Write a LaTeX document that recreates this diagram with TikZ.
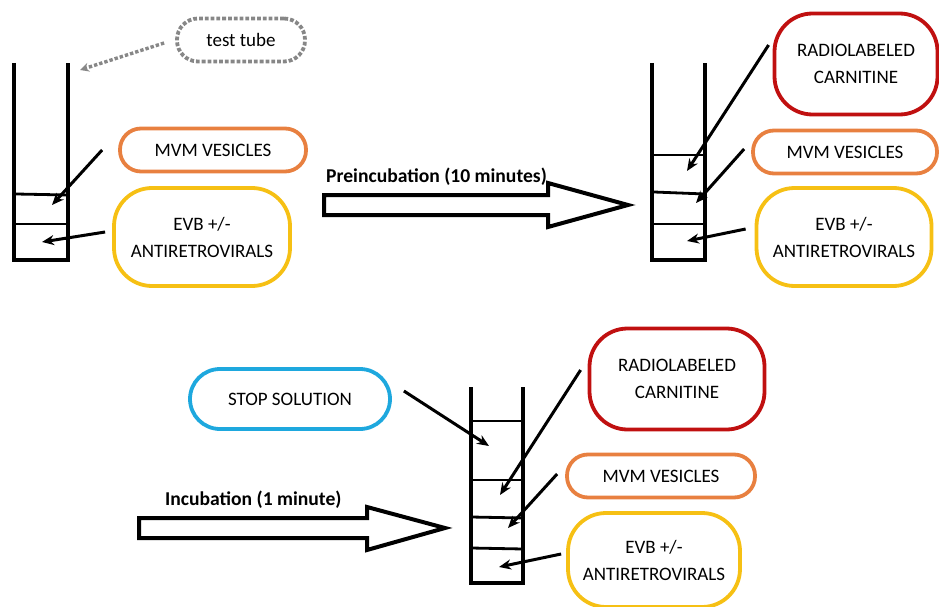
\documentclass[tikz,border=0pt]{standalone}
\usepackage{fontspec}
\setmainfont{Carlito}
\usetikzlibrary{arrows.meta}

\definecolor{mvmorange}{RGB}{232,128,64}
\definecolor{evbyellow}{RGB}{246,192,20}
\definecolor{radred}{RGB}{192,16,16}
\definecolor{stopblue}{RGB}{30,168,222}
\definecolor{hintgray}{RGB}{135,135,135}

\begin{document}
\begin{tikzpicture}[x=1pt, y=-1pt, font=\fontsize{19}{27}\selectfont]
    % Styles
    \tikzset{
        box/.style={draw=#1, line width=3.8pt, align=center, inner sep=0pt},
        pill/.style={box=#1, minimum height=43, rounded corners=21},
        tall/.style={box=#1, minimum height=98, rounded corners=38},
        tube/.style={line width=3.2pt, line join=miter},
        layer/.style={line width=2.8pt},
        feed/.style={line width=3pt, -{Stealth[length=12pt, width=10pt]}},
        hint/.style={line width=3.4pt, dotted, hintgray, -{Stealth[length=9pt, width=9pt]}},
        bigarrow/.style={line width=4pt, line join=miter, fill=white},
        step label/.style={font=\fontsize{19.6}{22}\selectfont\bfseries, anchor=west, inner sep=0pt}
    }
    \useasboundingbox (0,0) rectangle (939,607);

    % ---------- Tube A (before preincubation) ----------
    \draw[tube] (14,63) -- (14,260) -- (68,260) -- (68,63);
    \draw[layer] (16,194) -- (68,195);
    \draw[layer] (14,224) -- (68,224);
    \coordinate (topA) at (80,70);
    \coordinate (mvmA in) at (52,205);
    \coordinate (evbA in) at (42,242);

    \node[box=hintgray, dotted, line width=3.8pt, minimum width=128, minimum height=43,
          rounded corners=21] (testtube) at (241,40) {test tube};
    \node[pill=mvmorange, minimum width=186] (mvmA) at (213,150) {MVM VESICLES};
    \node[tall=evbyellow, minimum width=176] (evbA) at (202,237) {EVB +/-\\ANTIRETROVIRALS};

    \draw[hint] ([shift={(-11,3)}]testtube.west) -- (topA);
    \draw[feed] ([shift={(-16,0)}]mvmA.west) -- (mvmA in);
    \draw[feed] ([shift={(-7,-5)}]evbA.west) -- (evbA in);

    % Preincubation step
    \draw[bigarrow] (324,195) -- (548,195) -- (548,183) -- (628,205) -- (548,227)
        -- (548,215) -- (324,215) -- cycle;
    \node[step label] (preinc) at (326,177) {Preincubation (10 minutes)};

    % ---------- Tube B (after preincubation) ----------
    \draw[tube] (652,63) -- (652,260) -- (705,260) -- (705,63);
    \draw[layer] (652,155) -- (705,155);
    \draw[layer] (654,192) -- (705,194);
    \draw[layer] (650,224) -- (705,224);
    \coordinate (radB in) at (687,171);
    \coordinate (mvmB in) at (696,203);
    \coordinate (evbB in) at (687,241);

    \node[tall=radred, minimum width=163, minimum height=101] (radB) at (856,64) {RADIOLABELED\\CARNITINE};
    \node[pill=mvmorange, minimum width=184] (mvmB) at (845,152) {MVM VESICLES};
    \node[tall=evbyellow, minimum width=175] (evbB) at (844,237) {EVB +/-\\ANTIRETROVIRALS};

    \draw[feed] ([shift={(-4,-19)}]radB.west) -- (radB in);
    \draw[feed] ([shift={(-7,-3)}]mvmB.west) -- (mvmB in);
    \draw[feed] ([shift={(-9,-8)}]evbB.west) -- (evbB in);

    % Incubation step
    \draw[bigarrow] (139,518) -- (367,518) -- (367,507) -- (445,528) -- (367,550)
        -- (367,538) -- (139,538) -- cycle;
    \node[step label] (incub) at (165,500) {Incubation (1 minute)};

    % ---------- Tube C (stop) ----------
    \draw[tube] (471,387) -- (471,583) -- (523,583) -- (523,387);
    \draw[layer] (471,421) -- (523,421);
    \draw[layer] (471,480) -- (523,480);
    \draw[layer] (471,517) -- (523,518);
    \draw[layer] (471,548) -- (523,549);
    \coordinate (stopC in) at (489,446);
    \coordinate (radC in) at (500,495);
    \coordinate (mvmC in) at (508,528);
    \coordinate (evbC in) at (499,567);

    \node[pill=stopblue, minimum width=200, minimum height=60, rounded corners=30] (stopC) at (290,399) {STOP SOLUTION};
    \node[tall=radred, minimum width=175, minimum height=101] (radC) at (677,379) {RADIOLABELED\\CARNITINE};
    \node[pill=mvmorange, minimum width=188] (mvmC) at (661,476) {MVM VESICLES};
    \node[tall=evbyellow, minimum width=172, minimum height=94] (evbC) at (654,560) {EVB +/-\\ANTIRETROVIRALS};

    \draw[feed] ([shift={(12,-8)}]stopC.east) -- (stopC in);
    \draw[feed] ([shift={(-7,-9)}]radC.west) -- (radC in);
    \draw[feed] ([shift={(-8,-2)}]mvmC.west) -- (mvmC in);
    \draw[feed] ([shift={(-5,-6)}]evbC.west) -- (evbC in);
\end{tikzpicture}
\end{document}
